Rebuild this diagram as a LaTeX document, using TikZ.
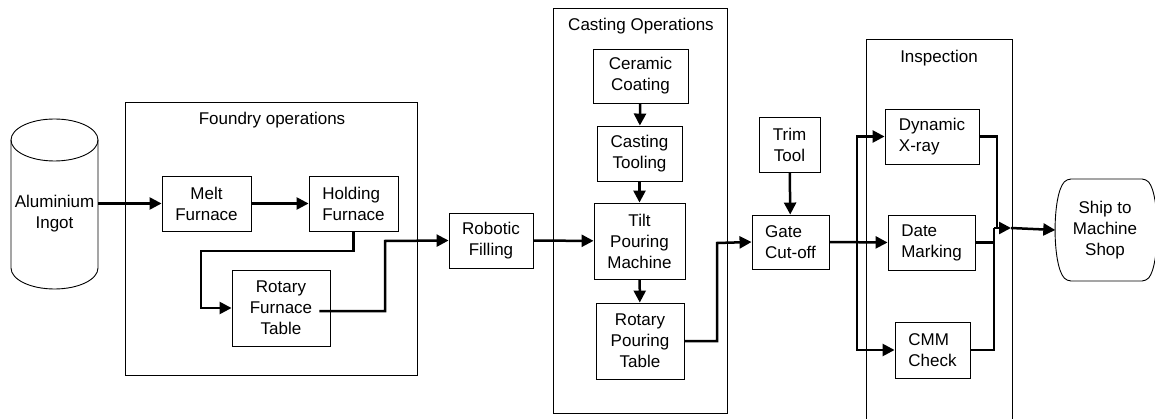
\documentclass[tikz,border=0pt]{standalone}
\usepackage{fontspec}
\setmainfont{Liberation Sans}
\usetikzlibrary{arrows.meta,calc}
\newcommand\diagfont{\fontsize{17}{21}\selectfont}
\begin{document}
\begin{tikzpicture}[x=1pt,y=-1pt,
  box/.style={draw, line width=0.9pt, inner sep=0pt, align=center, font=\diagfont},
  lbox/.style={box, align=left},
  ttl/.style={inner sep=0pt, font=\diagfont},
  grp/.style={draw, line width=0.9pt},
  conn/.style={line width=2.5pt, -{Triangle[length=12pt,width=12pt]}},
  wire/.style={line width=2.5pt},
]
\useasboundingbox (0,0) rectangle (1155,419);

% groups
\draw[grp] (125,102) rectangle (417,375);
\node[ttl] (tfoundry) at (272,120) {Foundry operations};
\draw[grp] (553,8) rectangle (727,413);
\node[ttl] (tcasting) at (641,26) {Casting Operations};
\draw[grp] (866,419) |- (1012,39) -- (1012,419);
\node[ttl] (tinsp) at (939,58) {Inspection};

% cylinder
\node[ttl, align=center, minimum width=87pt, minimum height=128pt] (ingot) at (54.5,214) {Aluminium\\Ingot};
\draw[line width=0.9pt] (54.5,140) ellipse [x radius=43.5, y radius=21];
\draw[line width=0.9pt] (11,140) -- (11,268) arc[start angle=180, end angle=360, x radius=43.5, y radius=-21] -- (98,140);

% foundry boxes
\node[box, minimum width=89pt, minimum height=55pt] (melt) at (206.5,203.5) {Melt\\Furnace};
\node[lbox, minimum width=89pt, minimum height=55pt] (hold) at (353.5,203.5) {Holding\\Furnace};
\node[box, minimum width=98pt, minimum height=76pt] (rotfur) at (281,308) {Rotary\\Furnace\\Table};

\node[box, minimum width=84pt, minimum height=55pt] (robot) at (491,240.5) {Robotic\\Filling};

% casting
\node[box, minimum width=95pt, minimum height=54pt] (ceramic) at (640.5,76) {Ceramic\\Coating};
\node[box, minimum width=85pt, minimum height=55pt] (ctool) at (639.5,153.5) {Casting\\Tooling};
\node[box, minimum width=91pt, minimum height=76pt] (tilt) at (639.5,241) {Tilt\\Pouring\\Machine};
\node[box, minimum width=88pt, minimum height=76pt] (rpour) at (640,341) {Rotary\\Pouring\\Table};

% gate
\node[box, minimum width=61pt, minimum height=55pt] (trim) at (789.5,144.5) {Trim\\Tool};
\node[lbox, minimum width=77pt, minimum height=54pt] (gate) at (790.5,242) {Gate\\Cut-off};

% inspection
\node[lbox, minimum width=94pt, minimum height=55pt] (xray) at (932,136.5) {Dynamic\\X-ray};
\node[lbox, minimum width=87pt, minimum height=55pt] (date) at (931.5,242.5) {Date\\Marking};
\node[lbox, minimum width=75pt, minimum height=56pt] (cmm) at (932.5,350) {CMM\\Check};

% ship
\node[ttl, align=center, minimum width=99pt, minimum height=102pt] (ship) at (1105,230) {Ship to\\Machine\\Shop};
\draw[line width=0.9pt, rounded corners=4pt]
  (1100,179) -- (1146,179) .. controls (1160,195) and (1160,265) .. (1146,281)
  -- (1067,281) .. controls (1052,265) and (1052,195) .. (1067,179) -- (1100,179);

% coordinates
\coordinate (b1) at (201,251);
\coordinate (b2) at (385,241);
\coordinate (rfout) at ($(rotfur.east)+(-11,3)$);
\coordinate (b3) at (717,243);
\coordinate (split) at (857,242);
\coordinate (jx) at (997,228);
\coordinate (jn) at (994,228);
\coordinate (mid) at (1011,228);

% connectors
\draw[conn] (ingot.east |- melt.west) -- (melt.west);
\draw[conn] (melt) -- (hold);
\draw[conn] (hold.south) |- (b1) |- (rotfur.west);
\draw[conn] (rfout) -| (b2) -- (robot.west);
\draw[conn] (robot) -- (tilt);
\draw[conn] (ceramic) -- (ctool);
\draw[conn] (ctool) -- (tilt);
\draw[conn] (tilt) -- (rpour);
\draw[conn] (rpour.east) -| (b3) -- (gate.west);
\draw[conn] (trim) -- (gate);
\draw[conn] (gate.east) -- (date.west);
\draw[conn] (split) |- (xray.west);
\draw[conn] (split) |- (cmm.west);
\draw[wire] (xray.east) -| (jx);
\draw[wire] (date.east) -| (jn);
\draw[wire] (cmm.east) -| (jn);
\draw[conn] (jn) -- (mid);
\draw[conn] (mid) -- (ship.west);
\end{tikzpicture}
\end{document}
